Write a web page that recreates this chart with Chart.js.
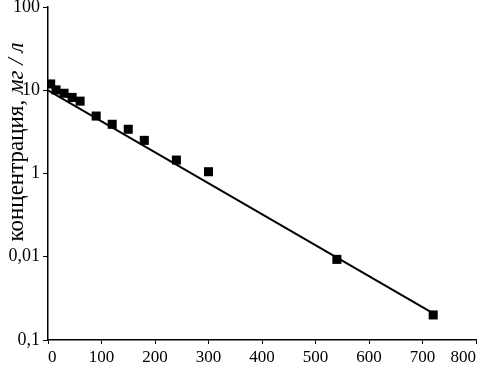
<!DOCTYPE html>
<html>
<head>
<meta charset="utf-8">
<script src="https://cdn.jsdelivr.net/npm/chart.js@4"></script>
<style>
  html, body { margin: 0; padding: 0; background: #fff; }
  #wrap { width: 483px; height: 370px; }
</style>
</head>
<body>
<div id="wrap"><canvas id="myChart" width="483" height="370"></canvas></div>
<script>
// время (x) и концентрация (y)
var times = [5, 15, 30, 45, 60, 90, 120, 150, 180, 240, 300, 540, 720];
var conc = [11.9, 10.1, 9.2, 8.2, 7.4, 4.9, 3.9, 3.4, 2.5, 1.45, 1.05, 0.093, 0.02];

// линия регрессии, концы
var fitX = [0, 725];
var fitY = [10, 0.02];

var xTicks = [0, 100, 200, 300, 400, 500, 600, 700, 800];
var yTickValues = [100, 10, 1, 0.1, 0.01];
var yTickLabels = ["100", "10", "1", "0,01", "0,1"];

var serif = "'Liberation Serif', 'DejaVu Serif', serif";

function toPoints(xs, ys) {
  var out = [];
  for (var i = 0; i < xs.length; i++) {
    out.push({ x: xs[i], y: ys[i] });
  }
  return out;
}

// подпись оси y: обычный текст + курсив
var yTitle = {
  id: "yTitle",
  afterDraw: function(chart) {
    var ctx = chart.ctx;
    var a = "концентрация, ";
    var b = "мг / л";
    var size = 23;
    ctx.save();
    ctx.fillStyle = "#000";
    ctx.translate(17, 142);
    ctx.rotate(-Math.PI / 2);
    ctx.font = size + "px " + serif;
    var wa = ctx.measureText(a).width;
    ctx.font = "italic " + size + "px " + serif;
    var wb = ctx.measureText(b).width;
    var start = -(wa + wb) / 2;
    ctx.textBaseline = "middle";
    ctx.font = size + "px " + serif;
    ctx.fillText(a, start, 0);
    ctx.font = "italic " + size + "px " + serif;
    ctx.fillText(b, start + wa, 0);
    ctx.restore();
  }
};

var ctx = document.getElementById("myChart").getContext("2d");
var chart = new Chart(ctx, {
  type: "scatter",
  data: {
    datasets: [{
      label: "fit",
      data: toPoints(fitX, fitY),
      showLine: true,
      borderColor: "#000",
      borderWidth: 2,
      pointRadius: 0,
      order: 2
    }, {
      label: "data",
      data: toPoints(times, conc),
      pointStyle: "rect",
      pointRadius: 6.4,
      backgroundColor: "#000",
      borderColor: "#000",
      borderWidth: 0,
      order: 1
    }]
  },
  options: {
    responsive: false,
    animation: false,
    layout: { padding: 0 },
    plugins: {
      legend: { display: false },
      tooltip: { enabled: false }
    },
    scales: {
      x: {
        type: "linear",
        min: 0,
        max: 800,
        afterBuildTicks: function(scale) {
          scale.ticks = xTicks.map(function(v) { return { value: v }; });
        },
        afterFit: function(scale) {
          scale.height = 30;
          scale.paddingRight = 7;
          scale.paddingLeft = 0;
        },
        border: { color: "#000", width: 1.5 },
        grid: { drawOnChartArea: false, color: "#000", tickLength: 4 },
        ticks: {
          color: "#000",
          padding: 3,
          maxRotation: 0,
          align: "inner",
          font: { family: serif, size: 17 }
        }
      },
      y: {
        type: "logarithmic",
        min: 0.01,
        max: 100,
        afterBuildTicks: function(scale) {
          scale.ticks = yTickValues.map(function(v) { return { value: v }; });
        },
        afterFit: function(scale) {
          scale.width = 48;
          scale.paddingTop = 7;
          scale.paddingBottom = 0;
        },
        border: { color: "#000", width: 1.5 },
        grid: { drawOnChartArea: false, color: "#000", tickLength: 5 },
        ticks: {
          color: "#000",
          padding: 3,
          font: { family: serif, size: 18 },
          callback: function(value) {
            var i = yTickValues.indexOf(value);
            return i >= 0 ? yTickLabels[i] : "";
          }
        }
      }
    }
  },
  plugins: [yTitle]
});
</script>
</body>
</html>
